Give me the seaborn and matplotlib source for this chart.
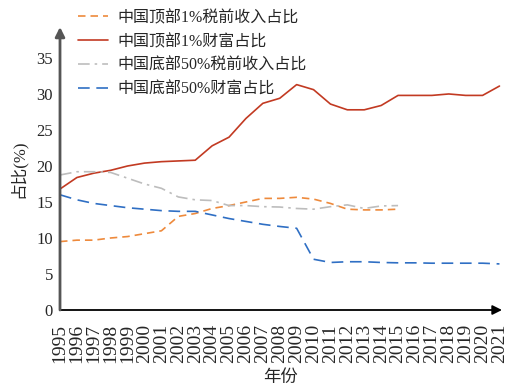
import numpy as np
import pandas as pd
import matplotlib
matplotlib.use("Agg")
import matplotlib.pyplot as plt
import seaborn as sns

years_all = list(range(1995, 2022))
years_inc = list(range(1995, 2016))

top1_income = [9.5, 9.7, 9.7, 10.0, 10.2, 10.6, 11.0, 13.0, 13.4, 14.1, 14.5,
               15.0, 15.5, 15.5, 15.65, 15.4, 14.8, 14.0, 13.9, 13.9, 14.0]
top1_wealth = [16.8, 18.4, 19.0, 19.4, 20.0, 20.4, 20.6, 20.7, 20.8, 22.8, 24.0,
               26.6, 28.7, 29.4, 31.3, 30.6, 28.6, 27.8, 27.8, 28.4, 29.8,
               29.8, 29.8, 30.0, 29.8, 29.8, 31.1]
bot50_income = [18.75, 19.2, 19.2, 19.1, 18.3, 17.5, 16.9, 15.7, 15.3, 15.2, 14.5,
                14.5, 14.35, 14.3, 14.1, 14.0, 14.35, 14.6, 14.1, 14.45, 14.5]
bot50_wealth = [16.0, 15.3, 14.8, 14.5, 14.2, 14.0, 13.8, 13.7, 13.7, 13.2, 12.7,
                12.3, 11.9, 11.6, 11.35, 7.05, 6.6, 6.7, 6.7, 6.6, 6.55,
                6.55, 6.5, 6.5, 6.5, 6.5, 6.4]

labels = ["中国顶部1%税前收入占比", "中国顶部1%财富占比",
          "中国底部50%税前收入占比", "中国底部50%财富占比"]
yticks = [0, 5, 10, 15, 20, 25, 30, 35]

sns.set_style("white")
plt.rcParams['font.family'] = ['Liberation Serif', 'Noto Sans CJK SC', 'DejaVu Sans']

fig = plt.figure(figsize=(5.2, 3.89), dpi=100)
ax = fig.add_axes([60/520, 1-310/389, 442/520, (310-27)/389])

series = [
    (years_inc, top1_income, labels[0], "#EE8A3C", (0, (4.5, 3))),
    (years_all, top1_wealth, labels[1], "#C23A22", "-"),
    (years_inc, bot50_income, labels[2], "#BDBDBD", (0, (7, 3, 1.5, 3))),
    (years_all, bot50_wealth, labels[3], "#2F6FC4", (0, (7, 4))),
]
for x, y, lab, col, ls in series:
    df = pd.DataFrame({"year": x, "value": y})
    sns.lineplot(data=df, x="year", y="value", ax=ax, color=col,
                 linestyle=ls, linewidth=1.2, label=lab)

ax.set_xlim(1995, 2021.15)
ax.set_ylim(0, 39.3)
ax.set_xticks(years_all)
ax.set_xticklabels([str(v) for v in years_all], rotation=90, fontsize=14)
ax.set_yticks(yticks)
ax.set_yticklabels([str(v) for v in yticks], fontsize=12)
ax.tick_params(axis='x', direction='out', length=3, width=0.9, color='black', pad=7)
ax.tick_params(axis='y', direction='in', length=4, width=0.9, color='black', pad=5)

for s in ["top", "right", "left", "bottom"]:
    ax.spines[s].set_visible(False)
ax.annotate("", xy=(1.0, 0), xytext=(0, 0), xycoords='axes fraction',
            arrowprops=dict(arrowstyle='-|>', color='black', lw=1.3,
                            mutation_scale=14, shrinkA=0, shrinkB=0))
ax.annotate("", xy=(0, 1.0), xytext=(0, 0), xycoords='axes fraction',
            arrowprops=dict(arrowstyle='-|>', color='#555555', lw=2.0,
                            mutation_scale=14, shrinkA=0, shrinkB=0))

ax.set_xlabel("年份", fontsize=12.5, labelpad=5)
ax.set_ylabel("占比(%)", fontsize=12, labelpad=7)

ax.get_legend().remove()
handles, labs = ax.get_legend_handles_labels()
fig.legend(handles, labs, loc='upper left', bbox_to_anchor=(78/520, 1-10/389),
           frameon=False, fontsize=11.5, handlelength=1.9, handletextpad=0.6,
           labelspacing=0.5, borderaxespad=0, borderpad=0)

fig.savefig("out.png", dpi=100)
